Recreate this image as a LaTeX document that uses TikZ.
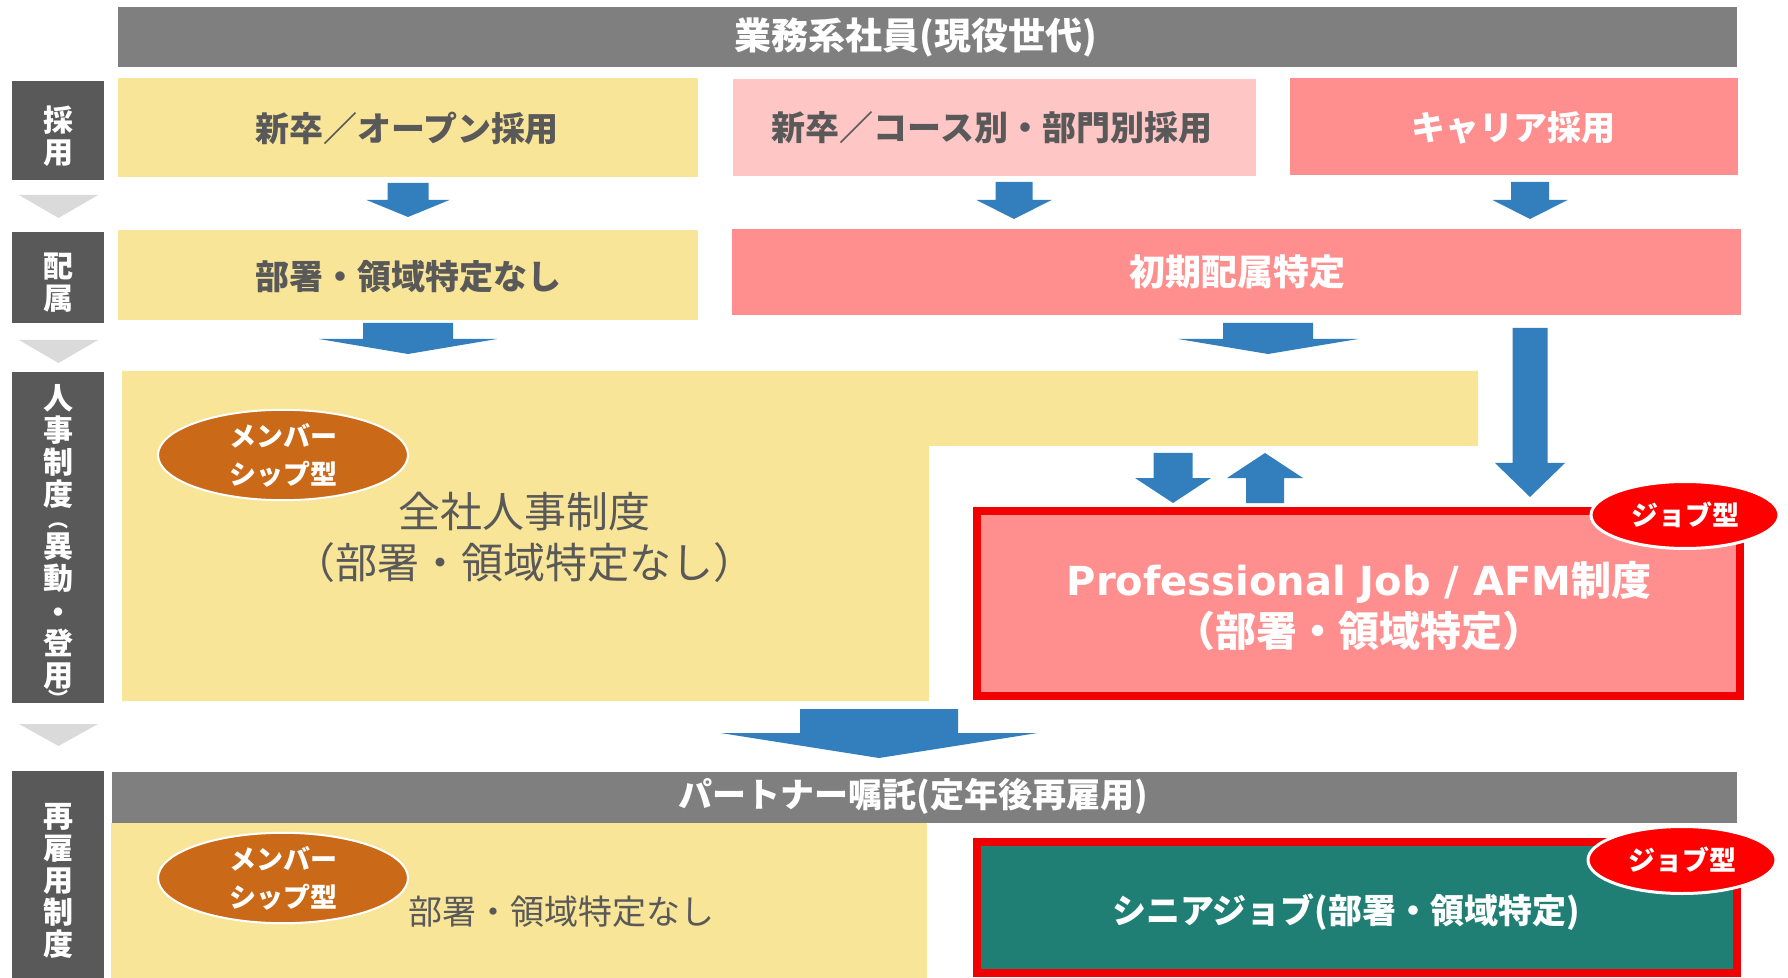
\documentclass[tikz,border=0pt]{standalone}
\usepackage{fontspec}
\usetikzlibrary{shapes.geometric}
\newfontfamily\jp{Noto Sans CJK JP}
\newfontfamily\lat{DejaVu Sans}
\definecolor{barGray}{HTML}{7F7F7F}
\definecolor{labGray}{HTML}{595959}
\definecolor{triGray}{HTML}{DADADA}
\definecolor{yel}{HTML}{F8E598}
\definecolor{pinkL}{HTML}{FFC6C6}
\definecolor{salmon}{HTML}{FF8F8F}
\definecolor{arrBlue}{HTML}{337FBE}
\definecolor{memOr}{HTML}{CA6918}
\definecolor{tealG}{HTML}{207F74}
\definecolor{txtGray}{HTML}{595959}
\definecolor{jobRed}{HTML}{FF0000}
\definecolor{boxRed}{HTML}{F00000}
\newcommand\blockarrow[6]{%
  \fill[arrBlue] ({#1-#5},#2) -- ({#1+#5},#2) -- ({#1+#5},#3) -- ({#1+#6},#3) -- (#1,#4) -- ({#1-#6},#3) -- ({#1-#5},#3) -- cycle;}
\newcommand\downtri[2]{%
  \fill[triGray] (19,#1) -- (98,#1) -- (58.5,#2) -- cycle;}
\newcommand\smallpar[1]{{\fontsize{10}{16}\selectfont #1}}
\setlength{\lineskiplimit}{-50pt}
\begin{document}
\begin{tikzpicture}[x=0.5pt,y=-0.5pt,
  rbox/.style={rectangle, inner sep=0pt, outer sep=0pt, draw=none},
  lab/.style={rbox, fill=labGray, minimum width=46pt},
  labtxt/.style={text=white, align=center, inner sep=0pt, font=\jp\bfseries\fontsize{15}{16}\selectfont},
  jtxt/.style={inner sep=0pt, align=center, font=\jp\bfseries\fontsize{17}{20}\selectfont},
  bigtxt/.style={inner sep=0pt, align=center, text=txtGray, font=\jp\fontsize{21}{25.5}\selectfont},
  member/.style={ellipse, fill=memOr, draw=white, line width=1pt, minimum width=125pt, minimum height=41.5pt, inner sep=0pt, text=white, align=center, font=\jp\bfseries\fontsize{13.5}{19}\selectfont},
  job/.style={ellipse, fill=jobRed, draw=white, line width=1.5pt, minimum width=94pt, minimum height=33.5pt, inner sep=0pt, text=white, align=center, font=\jp\bfseries\fontsize{13.5}{16}\selectfont},
]
\useasboundingbox (0,0) rectangle (1788,978);
\fill[white] (0,0) rectangle (1788,978);

% top bar
\node[rbox, fill=barGray, minimum width=809.5pt, minimum height=30pt] (topbar) at (927.5,37) {};
\node[jtxt, text=white, font=\jp\bfseries\fontsize{18.5}{20}\selectfont] (toptxt) at (916,37) {業務系社員(現役世代)};

% left labels
\node[lab, minimum height=49.5pt] (lab1) at (58,130.5) {};
\node[labtxt] (lab1t) at (58,136) {採\\用};
\node[lab, minimum height=45.5pt] (lab2) at (58,277.5) {};
\node[labtxt] (lab2t) at (58,283) {配\\属};
\node[lab, minimum height=165.5pt] (lab3) at (58,537.5) {};
\node[labtxt] (lab3t) at (58,545) {人\\事\\制\\度\\[-5pt]\smallpar{︵}\\[-1pt]異\\動\\[1pt]・\\[-0.5pt]登\\用\\[-6pt]\smallpar{︶}};
\node[lab, minimum height=103.5pt] (lab4) at (58,874.5) {};
\node[labtxt] (lab4t) at (58,880.5) {再\\雇\\用\\制\\度};
\downtri{195}{218}
\downtri{340}{363}
\downtri{724}{746}

% recruit row
\node[rbox, fill=yel, minimum width=290pt, minimum height=49.5pt] (open) at (408,127.5) {};
\node[jtxt, text=txtGray] (opent) at (407,128) {新卒／オープン採用};
\node[rbox, fill=pinkL, minimum width=261.5pt, minimum height=48.5pt] (course) at (994.5,127.5) {};
\node[jtxt, text=txtGray] (courset) at (992,128) {新卒／コース別・部門別採用};
\node[rbox, fill=salmon, minimum width=224pt, minimum height=48.5pt] (career) at (1514,126.5) {};
\node[jtxt, text=white] (careert) at (1513,128) {キャリア採用};

% placement row
\node[rbox, fill=yel, minimum width=290pt, minimum height=45pt] (nospec) at (408,275) {};
\node[jtxt, text=txtGray] (nospect) at (408,277) {部署・領域特定なし};
\node[rbox, fill=salmon, minimum width=504.5pt, minimum height=43pt] (initial) at (1236.5,272) {};
\node[jtxt, text=white, font=\jp\bfseries\fontsize{18}{20}\selectfont] (initialt) at (1237,272) {初期配属特定};

% arrows row 1
\blockarrow{408}{183}{200}{217}{20.5}{41.5}
\blockarrow{1014}{182}{200}{219}{18.5}{37.5}
\blockarrow{1530}{182}{200}{219}{19}{37.5}
% arrows row 2
\blockarrow{408}{323}{339}{354}{45}{89}
\blockarrow{1268}{323}{339}{354}{45}{90}
\blockarrow{1530}{328}{463}{497}{17.5}{35}

% HR system L shape
\fill[yel] (122,371) -- (1478,371) -- (1478,446) -- (929,446) -- (929,701) -- (122,701) -- cycle;
\node[member] (mem1) at (283,455) {メンバー\\シップ型};
\node[bigtxt] (zensha) at (524,537) {全社人事制度\\（部署・領域特定なし）};

% exchange arrows
\blockarrow{1173}{453}{478}{503}{19.5}{38}
\blockarrow{1265}{503}{478}{453}{19}{38}

% professional job box
\node[rbox, fill=salmon, draw=boxRed, line width=4pt, minimum width=381.5pt, minimum height=92.5pt] (pj) at (1358.5,603.5) {};
\node[inner sep=0pt, align=center, text=white, font=\jp\bfseries\fontsize{20}{25.5}\selectfont] (pjt) at (1359,606.5) {{\lat\bfseries Professional Job / AFM}制度\\{\fontsize{20.5}{25.5}\selectfont （部署・領域特定）}};
\node[job] (job1) at (1685,515) {ジョブ型};

% big arrow down to re-employment
\blockarrow{879}{709}{733}{758}{79}{158.5}

% partner bar
\node[rbox, fill=barGray, minimum width=812.5pt, minimum height=25.5pt] (pbar) at (924.5,797.5) {};
\node[jtxt, text=white] (pbart) at (913,796) {パートナー嘱託(定年後再雇用)};
\node[rbox, fill=yel, minimum width=408pt, minimum height=77.5pt] (reyel) at (519,900.5) {};
\node[member] (mem2) at (283,878) {メンバー\\シップ型};
\node[inner sep=0pt, text=txtGray, font=\jp\fontsize{17}{20}\selectfont] (ret) at (561,912) {部署・領域特定なし};

% senior job box
\node[rbox, fill=tealG, draw=boxRed, line width=4pt, minimum width=380pt, minimum height=65.5pt] (senior) at (1357,907.5) {};
\node[jtxt, text=white] (seniort) at (1346,912) {シニアジョブ(部署・領域特定)};
\node[job] (job2) at (1682,860) {ジョブ型};
\end{tikzpicture}
\end{document}
